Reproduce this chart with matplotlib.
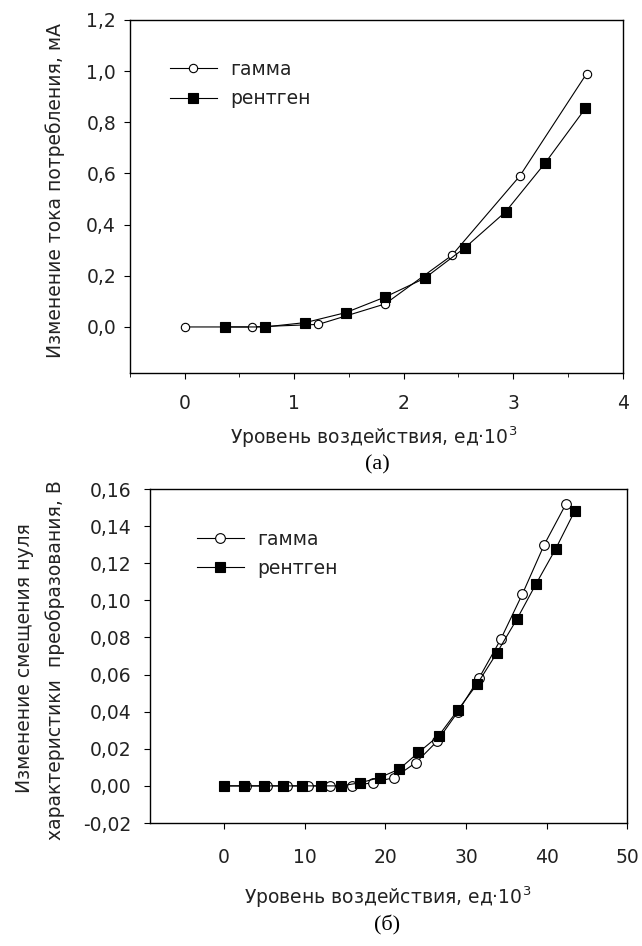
import matplotlib
matplotlib.use("Agg")
import matplotlib.pyplot as plt
from matplotlib.ticker import FixedLocator, MultipleLocator

plt.rcParams['font.family'] = ['DejaVu Sans']
plt.rcParams['mathtext.fontset'] = 'dejavusans'

# ---------- data: panel (а) ----------
a_gamma_x = [0.0, 0.61, 1.22, 1.83, 2.44, 3.06, 3.67]
a_gamma_y = [0.0, 0.0, 0.01, 0.09, 0.28, 0.59, 0.99]
a_xray_x = [0.37, 0.73, 1.10, 1.47, 1.83, 2.19, 2.56, 2.93, 3.29, 3.66]
a_xray_y = [0.0, 0.0, 0.017, 0.056, 0.117, 0.19, 0.31, 0.45, 0.64, 0.855]
a_xticks = [0, 1, 2, 3, 4]
a_xticklabels = ['0', '1', '2', '3', '4']
a_yticks = [0.0, 0.2, 0.4, 0.6, 0.8, 1.0, 1.2]
a_yticklabels = ['0,0', '0,2', '0,4', '0,6', '0,8', '1,0', '1,2']

# ---------- data: panel (б) ----------
b_gamma_x = [0.0, 2.65, 5.3, 7.8, 10.4, 13.1, 15.8, 18.4, 21.1, 23.8, 26.4,
             29.0, 31.6, 34.3, 37.0, 39.7, 42.4]
b_gamma_y = [0.0, 0.0, 0.0, 0.0, 0.0, 0.0, 0.0, 0.0017, 0.0045, 0.0126, 0.024,
             0.040, 0.058, 0.079, 0.1035, 0.130, 0.152]
b_xray_x = [0.0, 2.5, 5.0, 7.3, 9.6, 12.0, 14.5, 16.9, 19.3, 21.7, 24.1, 26.6,
            29.0, 31.4, 33.8, 36.3, 38.7, 41.1, 43.5]
b_xray_y = [0.0, 0.0, 0.0, 0.0, 0.0, 0.0, 0.0, 0.0017, 0.0045, 0.009, 0.018,
            0.027, 0.041, 0.055, 0.0715, 0.0898, 0.109, 0.1276, 0.1483]
b_xticks = [0, 10, 20, 30, 40, 50]
b_xticklabels = ['0', '10', '20', '30', '40', '50']
b_yticks = [-0.02, 0.0, 0.02, 0.04, 0.06, 0.08, 0.10, 0.12, 0.14, 0.16]
b_yticklabels = ['-0,02', '0,00', '0,02', '0,04', '0,06', '0,08', '0,10',
                 '0,12', '0,14', '0,16']

labels = ['гамма', 'рентген']

W, H = 642, 946
fig = plt.figure(figsize=(W / 100, H / 100), dpi=100)


def ax_rect(l, t, r, b):
    return [l / W, 1 - b / H, (r - l) / W, (b - t) / H]


def fx(x):
    return x / W


def fy(y):
    return 1 - y / H


TICK_FS = 13.5
TEXT_FS = 13.5
TXT_COLOR = '#222222'


def style(ax, xpad, ypad):
    for s in ax.spines.values():
        s.set_linewidth(1.0)
        s.set_color('black')
    ax.tick_params(which='major', direction='out', length=4, width=0.8,
                   labelsize=TICK_FS, labelcolor=TXT_COLOR)
    ax.tick_params(which='minor', direction='out', length=3, width=0.6)
    ax.tick_params(axis='x', pad=xpad)
    ax.tick_params(axis='y', pad=ypad)


# ---- panel (а) ----
ax1 = fig.add_axes(ax_rect(130, 20, 622.7, 373))
ax1.plot(a_gamma_x, a_gamma_y, '-', color='black', lw=0.8, marker='o',
         ms=6, mfc='white', mec='black', mew=0.8, label=labels[0], zorder=3)
ax1.plot(a_xray_x, a_xray_y, '-', color='black', lw=0.8, marker='s',
         ms=6.5, mfc='black', mec='black', mew=0.8, label=labels[1], zorder=3)
ax1.set_xlim(-0.5, 4.0)
ax1.set_ylim(-0.18, 1.2)
ax1.xaxis.set_major_locator(FixedLocator(a_xticks))
ax1.set_xticklabels(a_xticklabels)
ax1.xaxis.set_minor_locator(MultipleLocator(0.5))
ax1.yaxis.set_major_locator(FixedLocator(a_yticks))
ax1.set_yticklabels(a_yticklabels)
style(ax1, 11, 6)
leg1 = ax1.legend(loc='upper left', bbox_to_anchor=(0.081, 0.887),
                  frameon=False, fontsize=TEXT_FS, handlelength=2.5,
                  handletextpad=0.7, labelspacing=0.55, borderaxespad=0,
                  borderpad=0)
for t in leg1.get_texts():
    t.set_color(TXT_COLOR)

# ---- panel (б) ----
ax2 = fig.add_axes(ax_rect(150, 489, 627.3, 823))
ax2.plot(b_gamma_x, b_gamma_y, '-', color='black', lw=0.8, marker='o',
         ms=7, mfc='white', mec='black', mew=0.8, label=labels[0], zorder=3)
ax2.plot(b_xray_x, b_xray_y, '-', color='black', lw=0.8, marker='s',
         ms=6.5, mfc='black', mec='black', mew=0.8, label=labels[1], zorder=4)
ax2.set_xlim(-9.2, 50)
ax2.set_ylim(-0.02, 0.16)
ax2.xaxis.set_major_locator(FixedLocator(b_xticks))
ax2.set_xticklabels(b_xticklabels)
ax2.yaxis.set_major_locator(FixedLocator(b_yticks))
ax2.set_yticklabels(b_yticklabels)
style(ax2, 14, 9.5)
leg2 = ax2.legend(loc='upper left', bbox_to_anchor=(0.098, 0.878),
                  frameon=False, fontsize=TEXT_FS, handlelength=2.5,
                  handletextpad=0.7, labelspacing=0.55, borderaxespad=0,
                  borderpad=0)
for t in leg2.get_texts():
    t.set_color(TXT_COLOR)

# ---- labels ----
xlab = 'Уровень воздействия, ед·10$^{3}$'
fig.text(fx(374), fy(437), xlab, ha='center', va='center', fontsize=TEXT_FS,
         color=TXT_COLOR)
fig.text(fx(388), fy(897), xlab, ha='center', va='center', fontsize=TEXT_FS,
         color=TXT_COLOR)
fig.text(fx(55), fy(191), 'Изменение тока потребления, мА', rotation=90,
         ha='center', va='center', fontsize=TEXT_FS, color=TXT_COLOR)
fig.text(fx(25), fy(658), 'Изменение смещения нуля', rotation=90,
         ha='center', va='center', fontsize=TEXT_FS, color=TXT_COLOR)
fig.text(fx(55), fy(660), 'характеристики  преобразования, В', rotation=90,
         ha='center', va='center', fontsize=TEXT_FS, color=TXT_COLOR)
fig.text(fx(377), fy(465), '(а)', ha='center', va='center', fontsize=16,
         family=['Liberation Serif', 'DejaVu Serif'], color='black')
fig.text(fx(387), fy(925), '(б)', ha='center', va='center', fontsize=16,
         family=['Liberation Serif', 'DejaVu Serif'], color='black')

fig.savefig('out.png', dpi=100)
